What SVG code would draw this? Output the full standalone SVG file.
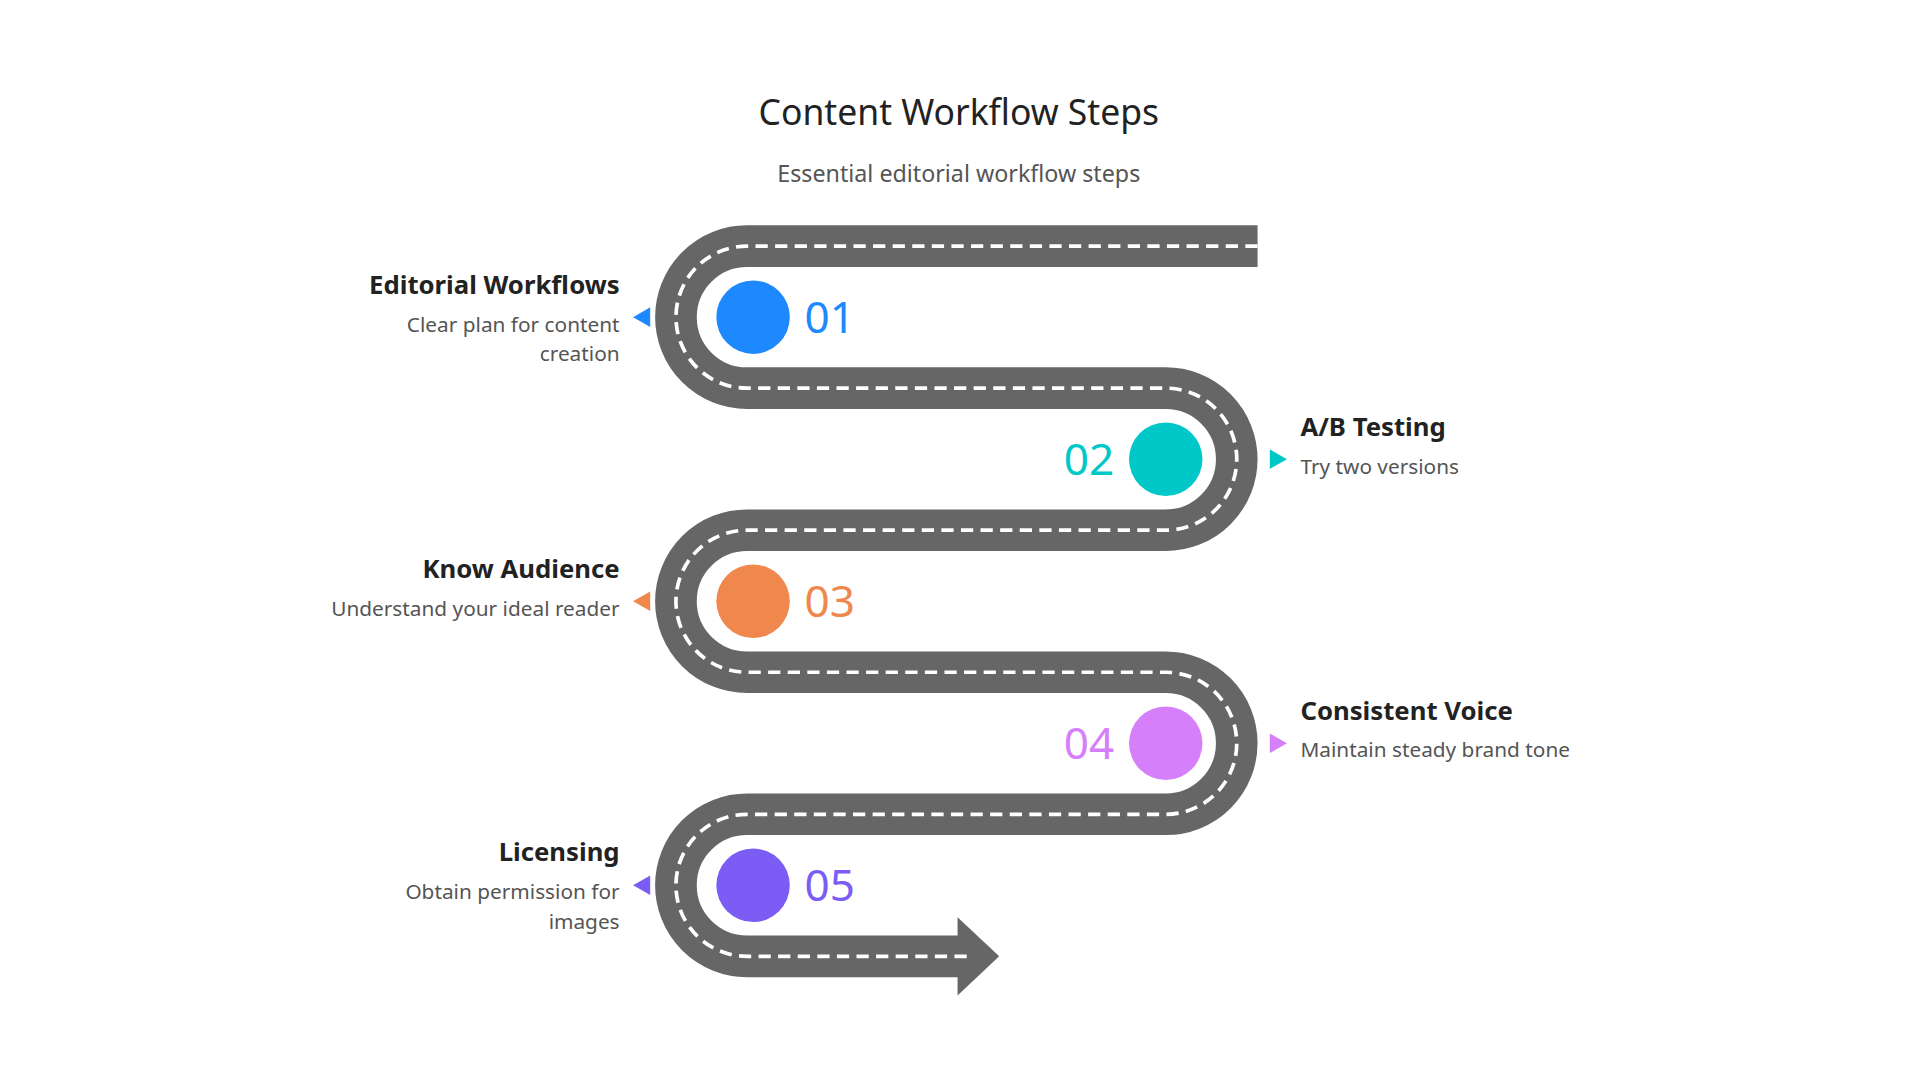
<svg xmlns="http://www.w3.org/2000/svg" width="1920" height="1080" viewBox="0 0 1920 1080">
<style>
.t{font-family:"Noto Sans","Open Sans",sans-serif;fill:#222}
.h{font-size:21px;font-weight:bold}
.d{font-size:17px;fill:#555}
.n{font-family:"Noto Sans","Open Sans",sans-serif;font-size:36px}
</style>
<rect width="1920" height="1080" fill="#fff"/>
<g transform="scale(1.2245)">
<text class="t" x="783" y="102" text-anchor="middle" font-size="29">Content Workflow Steps</text>
<text class="t d" x="783" y="149" text-anchor="middle" font-size="19" style="font-size:19px">Essential editorial workflow steps</text>
<g id="connectors">
<path d="M1027,201 H610 A58,58 0 0 0 610,317 H952 A58,58 0 0 1 952,433 H610 A58,58 0 0 0 610,549 H952 A58,58 0 0 1 952,665 H610 A58,58 0 0 0 610,781 H790" fill="none" stroke="#666" stroke-width="34"/>
<polygon points="782,749 816,781 782,813" fill="#666"/>
<path d="M1027,201 H610 A58,58 0 0 0 610,317 H952 A58,58 0 0 1 952,433 H610 A58,58 0 0 0 610,549 H952 A58,58 0 0 1 952,665 H610 A58,58 0 0 0 610,781 H790" fill="none" stroke="#fff" stroke-width="3" stroke-dasharray="10 6"/>
</g>
<g id="step1">
<circle cx="615" cy="259" r="30" fill="#1E88FF"/>
<text class="n" x="657" y="272" fill="#1E88FF">01</text>
<polygon points="531,251 517,259 531,267" fill="#1E88FF"/>
<text class="t h" x="506" y="240" text-anchor="end">Editorial Workflows</text>
<text class="t d" x="506" y="271" text-anchor="end">Clear plan for content</text>
<text class="t d" x="506" y="295" text-anchor="end">creation</text>
</g>
<g id="step2">
<circle cx="952" cy="375" r="30" fill="#00C8C8"/>
<text class="n" x="910" y="388" fill="#00C8C8" text-anchor="end">02</text>
<polygon points="1037,367 1051,375 1037,383" fill="#00C8C8"/>
<text class="t h" x="1062" y="356">A/B Testing</text>
<text class="t d" x="1062" y="387">Try two versions</text>
</g>
<g id="step3">
<circle cx="615" cy="491" r="30" fill="#F0874D"/>
<text class="n" x="657" y="504" fill="#F0874D">03</text>
<polygon points="531,483 517,491 531,499" fill="#F0874D"/>
<text class="t h" x="506" y="472" text-anchor="end">Know Audience</text>
<text class="t d" x="506" y="503" text-anchor="end">Understand your ideal reader</text>
</g>
<g id="step4">
<circle cx="952" cy="607" r="30" fill="#D580FA"/>
<text class="n" x="910" y="620" fill="#D580FA" text-anchor="end">04</text>
<polygon points="1037,599 1051,607 1037,615" fill="#D580FA"/>
<text class="t h" x="1062" y="588">Consistent Voice</text>
<text class="t d" x="1062" y="618">Maintain steady brand tone</text>
</g>
<g id="step5">
<circle cx="615" cy="723" r="30" fill="#7B5CF5"/>
<text class="n" x="657" y="736" fill="#7B5CF5">05</text>
<polygon points="531,715 517,723 531,731" fill="#7B5CF5"/>
<text class="t h" x="506" y="703" text-anchor="end">Licensing</text>
<text class="t d" x="506" y="734" text-anchor="end">Obtain permission for</text>
<text class="t d" x="506" y="759" text-anchor="end">images</text>
</g>
</g>
</svg>
